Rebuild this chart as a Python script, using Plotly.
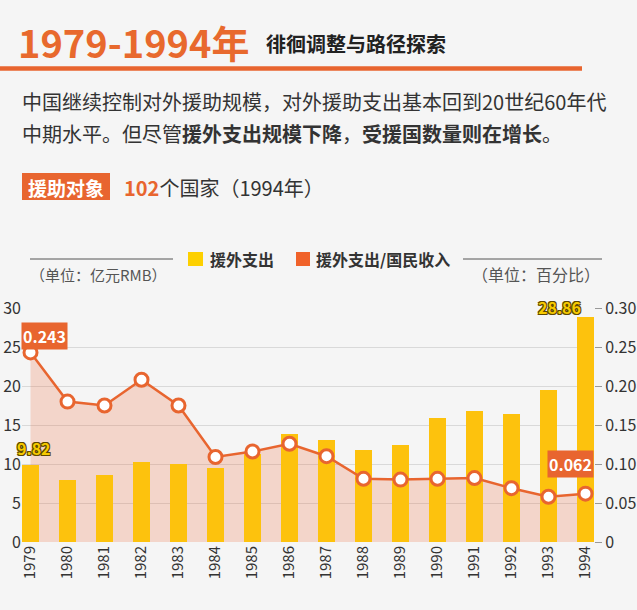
import plotly.graph_objects as go

# ---------------- data ----------------
years = ["1979", "1980", "1981", "1982", "1983", "1984", "1985", "1986",
         "1987", "1988", "1989", "1990", "1991", "1992", "1993", "1994"]
aid_spending = [9.82, 8.0, 8.6, 10.3, 10.0, 9.5, 11.3, 13.8,
                13.1, 11.8, 12.5, 15.9, 16.8, 16.4, 19.5, 28.86]   # 亿元RMB
aid_ratio = [0.243, 0.180, 0.175, 0.208, 0.175, 0.109, 0.116, 0.126,
             0.110, 0.081, 0.080, 0.081, 0.082, 0.069, 0.058, 0.062]  # 百分比
left_ticks = [0, 5, 10, 15, 20, 25, 30]
right_ticks = [0, 0.05, 0.10, 0.15, 0.20, 0.25, 0.30]
right_ticktext = ["0", "0.05", "0.10", "0.15", "0.20", "0.25", "0.30"]

FONT = "Noto Sans CJK SC"
ORANGE = "#E8652F"
YELLOW = "#FDC20D"
BG = "#F5F5F5"

W, H = 637, 610
ML, MR, MT, MB = 22, 43, 308, 68
PW, PH = W - ML - MR, H - MT - MB


def px(x):
    return (x - ML) / PW


def py(y):
    return (H - MB - y) / PH


fig = go.Figure()

# fill area under ratio line (primary hidden axis, drawn beneath bars)
fig.add_trace(go.Scatter(
    x=years, y=aid_ratio, mode="lines", line=dict(width=0, color=ORANGE),
    fill="tozeroy", fillcolor="rgba(235,100,50,0.22)", hoverinfo="skip",
    yaxis="y", showlegend=False))

# bars
fig.add_trace(go.Bar(
    x=years, y=aid_spending, width=0.46, marker=dict(color=YELLOW, line=dict(width=0)),
    yaxis="y2", name="援外支出", showlegend=False))

# ratio line
fig.add_trace(go.Scatter(
    x=years, y=aid_ratio, mode="lines+markers",
    line=dict(color=ORANGE, width=2.5),
    marker=dict(size=13, color="white", line=dict(color=ORANGE, width=3)),
    yaxis="y3", name="援外支出/国民收入", showlegend=False))

ann = []
shapes = []

# data labels (category axis: annotation x given as category index)
shadow = ("1px 1px 0 #5e4800, -1px -1px 0 #5e4800, 1px -1px 0 #5e4800, "
          "-1px 1px 0 #5e4800, 0 1px 0 #5e4800, 0 -1px 0 #5e4800")
for idx, xs, ys in [(0, 3, 17), (15, -26, 10)]:
    ann.append(dict(x=idx, y=aid_spending[idx], xref="x", yref="y2",
                    text="<b>%.2f</b>" % aid_spending[idx], showarrow=False,
                    xshift=xs, yshift=ys,
                    font=dict(family=FONT, size=16, color="#F7CB00", shadow=shadow)))
for idx, xs, ys in [(0, 14, 16), (15, -15, 30)]:
    ann.append(dict(x=idx, y=aid_ratio[idx], xref="x", yref="y3",
                    text="<b>%.3f</b>" % aid_ratio[idx], showarrow=False,
                    xshift=xs, yshift=ys, bgcolor=ORANGE, borderpad=1,
                    font=dict(family=FONT, size=16, color="white")))

# header
ann.append(dict(x=px(16), y=py(41), xref="paper", yref="paper", xanchor="left",
                yanchor="middle", showarrow=False, text="<b>1979-1994年</b>",
                font=dict(family=FONT, size=38, color="#E8692D")))
ann.append(dict(x=px(264), y=py(43), xref="paper", yref="paper", xanchor="left",
                yanchor="middle", showarrow=False, text="<b>徘徊调整与路径探索</b>",
                font=dict(family=FONT, size=20, color="#222222")))
shapes.append(dict(type="line", xref="paper", yref="paper", x0=px(0), x1=px(582),
                   y0=py(68.5), y1=py(68.5), line=dict(color=ORANGE, width=4.5)))

ann.append(dict(x=px(20), y=py(101), xref="paper", yref="paper", xanchor="left",
                yanchor="middle", showarrow=False,
                text="中国继续控制对外援助规模，对外援助支出基本回到20世纪60年代",
                font=dict(family=FONT, size=20, color="#333333")))
ann.append(dict(x=px(20), y=py(133), xref="paper", yref="paper", xanchor="left",
                yanchor="middle", showarrow=False,
                text="中期水平。但尽管<b>援外支出规模下降</b>，<b>受援国数量则在增长</b>。",
                font=dict(family=FONT, size=20, color="#333333")))

shapes.append(dict(type="rect", xref="paper", yref="paper", x0=px(22), x1=px(110),
                   y0=py(200), y1=py(173), fillcolor=ORANGE, line=dict(width=0)))
ann.append(dict(x=px(66), y=py(187), xref="paper", yref="paper", xanchor="center",
                yanchor="middle", showarrow=False, text="<b>援助对象</b>",
                font=dict(family=FONT, size=19, color="white")))
ann.append(dict(x=px(122), y=py(187), xref="paper", yref="paper", xanchor="left",
                yanchor="middle", showarrow=False,
                text="<span style='color:%s'><b>102</b></span>个国家（1994年）" % ORANGE,
                font=dict(family=FONT, size=20, color="#333333")))

# legend
shapes.append(dict(type="rect", xref="paper", yref="paper", x0=px(188), x1=px(203),
                   y0=py(266), y1=py(252), fillcolor="#FDD000", line=dict(width=0)))
ann.append(dict(x=px(208), y=py(259), xref="paper", yref="paper", xanchor="left",
                yanchor="middle", showarrow=False, text="<b>援外支出</b>",
                font=dict(family=FONT, size=16, color="#333333")))
shapes.append(dict(type="rect", xref="paper", yref="paper", x0=px(296), x1=px(310),
                   y0=py(266), y1=py(252), fillcolor="#F0622A", line=dict(width=0)))
ann.append(dict(x=px(314), y=py(259), xref="paper", yref="paper", xanchor="left",
                yanchor="middle", showarrow=False, text="<b>援外支出/国民收入</b>",
                font=dict(family=FONT, size=16, color="#333333")))
for x0, x1 in [(30, 173), (463, 602)]:
    shapes.append(dict(type="line", xref="paper", yref="paper", x0=px(x0), x1=px(x1),
                       y0=py(259), y1=py(259), line=dict(color="#555555", width=1)))
ann.append(dict(x=px(28), y=py(274), xref="paper", yref="paper", xanchor="left",
                yanchor="middle", showarrow=False, text="（单位：亿元RMB）",
                font=dict(family=FONT, size=15, color="#555555")))
ann.append(dict(x=px(470), y=py(274), xref="paper", yref="paper", xanchor="left",
                yanchor="middle", showarrow=False, text="（单位：百分比）",
                font=dict(family=FONT, size=16, color="#555555")))

fig.update_layout(
    width=W, height=H,
    margin=dict(l=ML, r=MR, t=MT, b=MB, pad=0),
    paper_bgcolor=BG, plot_bgcolor=BG,
    font=dict(family=FONT, color="#333333"),
    showlegend=False,
    bargap=0,
    xaxis=dict(type="category", range=[-0.23, 15.23], tickangle=-90,
               tickfont=dict(size=15, color="#333333"), showgrid=False,
               showline=False, zeroline=False, ticks="", automargin=False),
    yaxis=dict(range=[0, 0.30], visible=False, showgrid=False, fixedrange=True,
               automargin=False),
    yaxis2=dict(range=[0, 30], overlaying="y", side="left", tickvals=left_ticks,
                showgrid=True, gridcolor="#D9D9D9", gridwidth=1, zeroline=False,
                showline=False, ticks="", tickfont=dict(size=16, color="#333333"),
                automargin=False),
    yaxis3=dict(range=[0, 0.30], overlaying="y", side="right", tickvals=right_ticks,
                ticktext=right_ticktext, showgrid=False, zeroline=False,
                showline=False, ticks="outside", ticklen=7, tickcolor="#999999",
                tickfont=dict(size=16, color="#333333"), automargin=False),
    annotations=ann, shapes=shapes,
)

fig.write_html("out.html", config={"displayModeBar": False},
               post_script="document.body.style.margin='0';")
